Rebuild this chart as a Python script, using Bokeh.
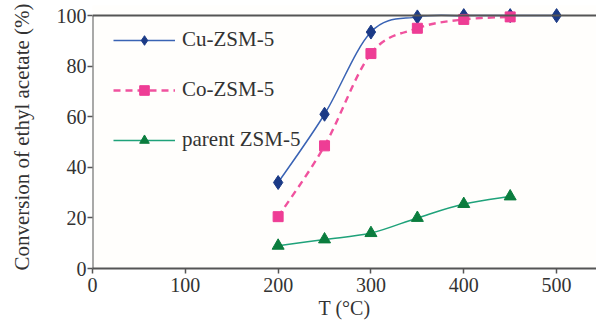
import numpy as np
from bokeh.plotting import figure
from bokeh.models import Range1d, Span, Legend, LegendItem, ColumnDataSource, FixedTicker
from bokeh.embed import file_html
from bokeh.resources import INLINE

temps_cu = [200, 250, 300, 350, 400, 450, 500]
cu = [34, 61, 93.5, 99.5, 100, 100, 100]
temps_co = [200, 250, 300, 350, 400, 450]
co = [20.5, 48.5, 85, 95, 98.5, 99.5]
temps_pa = [200, 250, 300, 350, 400, 450]
parent = [9, 11.5, 14, 20, 25.5, 28.5]
names = ["Cu-ZSM-5", "Co-ZSM-5", "parent ZSM-5"]
x_ticks = [0, 100, 200, 300, 400, 500]
y_ticks = [0, 20, 40, 60, 80, 100]

FONT = "Liberation Serif"

p = figure(width=596, height=329, output_backend="svg", toolbar_location=None,
           x_range=Range1d(0, 543), y_range=Range1d(0, 104),
           min_border_left=92, min_border_right=0, min_border_top=5, min_border_bottom=61)
p.background_fill_color = "#fffefc"
p.border_fill_color = "#ffffff"
p.outline_line_color = None
p.grid.visible = False

for ax in (p.xaxis[0], p.yaxis[0]):
    ax.major_label_text_font = FONT
    ax.major_label_text_font_size = "20px"
    ax.major_label_text_color = "#333333"
    ax.major_tick_line_color = "#555555"
    ax.major_tick_line_width = 1.5
    ax.major_tick_out = 5
    ax.major_tick_in = 0
    ax.minor_tick_line_color = None
    ax.axis_label_text_font = FONT
    ax.axis_label_text_font_size = "20px"
    ax.axis_label_text_font_style = "normal"
    ax.axis_label_text_color = "#333333"
p.xaxis.ticker = FixedTicker(ticks=x_ticks)
p.yaxis.ticker = FixedTicker(ticks=y_ticks)
p.xaxis.axis_line_color = "#555555"
p.xaxis.axis_line_width = 2
p.yaxis.axis_line_color = None
p.xaxis.axis_label = "T (°C)"
p.yaxis.axis_label = "Conversion of ethyl acetate (%)"
p.yaxis.axis_label_text_font_size = "21px"
p.xaxis.axis_label_standoff = 2
p.yaxis.axis_label_standoff = 20
p.xaxis.major_label_standoff = 4
p.yaxis.major_label_standoff = 1

# frame lines
p.add_layout(Span(location=100, dimension="width", line_color="#555555", line_width=2))
p.segment(x0=[0], y0=[0], x1=[0], y1=[100], line_color="#555555", line_width=2)


def smooth(xs, ys):
    xs = np.asarray(xs, float); ys = np.asarray(ys, float)
    P = np.column_stack([xs, ys])
    n = len(P)
    ext = np.vstack([P[0], P, P[-1]])
    c1 = P[:-1] + (ext[2:n+1] - ext[0:n-1]) / 6.0
    c2 = P[1:] - (ext[3:n+2] - ext[1:n]) / 6.0
    return dict(x0=P[:-1, 0], y0=P[:-1, 1], x1=P[1:, 0], y1=P[1:, 1],
                cx0=c1[:, 0], cy0=c1[:, 1], cx1=c2[:, 0], cy1=c2[:, 1])

series = [
    (temps_cu, cu, "#3a63b4", "solid", "diamond", "#1b3a86", 14, 1.5),
    (temps_co, co, "#f0529e", "7 5", "square", "#ee3d95", 10, 2.4),
    (temps_pa, parent, "#1fa27a", "solid", "triangle", "#0b7d3e", 12, 1.5),
]
items = []
for (xs, ys, lc, dash, mk, mc, ms, lw), name in zip(series, names):
    p.bezier(source=ColumnDataSource(smooth(xs, ys)), x0="x0", y0="y0", x1="x1", y1="y1",
             cx0="cx0", cy0="cy0", cx1="cx1", cy1="cy1",
             line_color=lc, line_width=lw, line_dash=dash)
    leg_line = p.line(x=[xs[0]], y=[ys[0]], line_color=lc, line_width=lw, line_dash=dash)
    sc = p.scatter(xs, ys, marker=mk, size=ms, fill_color=mc, line_color=mc)
    items.append(LegendItem(label=name, renderers=[leg_line, sc]))

legend = Legend(items=items, location=(21, 116), glyph_width=62, glyph_height=24,
                label_height=24,
                label_text_font=FONT, label_text_font_size="21px", label_text_color="#333333",
                spacing=25, padding=0, margin=0, label_standoff=7,
                background_fill_alpha=0, border_line_color=None)
p.add_layout(legend, "center")

open("out.html", "w").write(file_html(p, INLINE))
